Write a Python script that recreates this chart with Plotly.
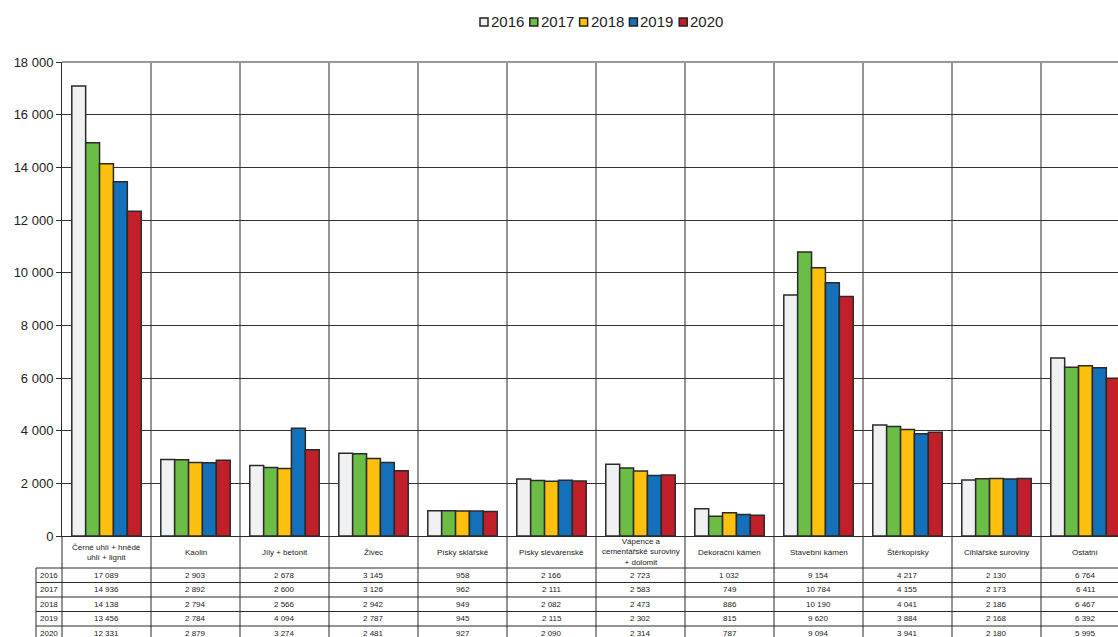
import plotly.graph_objects as go

categories = [
    "Černé uhlí + hnědé<br>uhlí + lignit",
    "Kaolin",
    "Jíly + betonit",
    "Živec",
    "Písky sklářské",
    "Písky slévárenské",
    "Vápence a<br>cementářské suroviny<br>+ dolomit",
    "Dekorační kámen",
    "Stavební kámen",
    "Štěrkopísky",
    "Cihlářské suroviny",
    "Ostatní",
]
years = ["2016", "2017", "2018", "2019", "2020"]
v2016 = [17089, 2903, 2678, 3145, 958, 2166, 2723, 1032, 9154, 4217, 2130, 6764]
v2017 = [14936, 2892, 2600, 3126, 962, 2111, 2583, 749, 10784, 4155, 2173, 6411]
v2018 = [14138, 2794, 2566, 2942, 949, 2082, 2473, 886, 10190, 4041, 2186, 6467]
v2019 = [13456, 2784, 4094, 2787, 945, 2115, 2302, 815, 9620, 3884, 2168, 6392]
v2020 = [12331, 2879, 3274, 2481, 927, 2090, 2314, 787, 9094, 3941, 2180, 5995]
series = [v2016, v2017, v2018, v2019, v2020]
colors = ["#F0F1F3", "#6CBD45", "#FDC00F", "#1470B8", "#C1202A"]
ytick_vals = list(range(0, 18001, 2000))

W, H = 1118, 637
L, T, B = 62, 62, 101
PW = W - L
PH = H - T - B
Y0 = H - B  # pixel of zero line
CAT_W = 89.0
x_hi = PW / CAT_W - 0.5

def fx(p):
    return (p - L) / PW

def fy(p):
    return (Y0 - p) / PH

def fmt(v):
    return f"{v:,}".replace(",", " ")

FONT = "Liberation Sans, Arial, sans-serif"
TXT = "#222222"
LINE = "#2b2b2b"

fig = go.Figure()
xs = list(range(len(categories)))
for yr, vals, col in zip(years, series, colors):
    fig.add_trace(go.Bar(
        x=xs, y=vals, name=yr, marker_color=col,
        marker_line_color="#2a2a2a", marker_line_width=1.5,
        showlegend=False,
    ))

shapes = []
annotations = []

# vertical category boundaries through plot, label row and table
for i in range(1, 13):
    shapes.append(dict(type="line", xref="x", yref="paper",
                       x0=i - 0.5, x1=i - 0.5, y0=1, y1=fy(645),
                       line=dict(color=LINE, width=1), layer="below"))
# left edge line below the plot
shapes.append(dict(type="line", xref="paper", yref="paper",
                   x0=0, x1=0, y0=0, y1=fy(645),
                   line=dict(color=LINE, width=1)))
# table left column edge
shapes.append(dict(type="line", xref="paper", yref="paper",
                   x0=fx(36), x1=fx(36), y0=fy(568), y1=fy(645),
                   line=dict(color=LINE, width=1)))
# table horizontal lines
row_lines = [568, 582.5, 597, 611.5, 626, 640.5]
for p in row_lines:
    shapes.append(dict(type="line", xref="paper", yref="paper",
                       x0=fx(36), x1=1, y0=fy(p), y1=fy(p),
                       line=dict(color=LINE, width=1)))
# top border (gray)
shapes.append(dict(type="line", xref="paper", yref="paper",
                   x0=0, x1=1, y0=1, y1=1,
                   line=dict(color="#999999", width=2)))

# category labels
for i, c in enumerate(categories):
    annotations.append(dict(x=i, y=fy(552), xref="x", yref="paper",
                            text=c, showarrow=False,
                            font=dict(family=FONT, size=8, color=TXT),
                            xanchor="center", yanchor="middle"))

# table rows
for r, (yr, vals) in enumerate(zip(years, series)):
    yc = (row_lines[r] + row_lines[r + 1]) / 2
    annotations.append(dict(x=fx(38), y=fy(yc), xref="paper", yref="paper",
                            text=yr, showarrow=False, xanchor="left",
                            yanchor="middle",
                            font=dict(family=FONT, size=8, color=TXT)))
    for i, v in enumerate(vals):
        annotations.append(dict(x=i, y=fy(yc), xref="x", yref="paper",
                                text=fmt(v), showarrow=False,
                                xanchor="center", yanchor="middle",
                                font=dict(family=FONT, size=8, color=TXT)))

# custom legend
leg_x0 = 480
leg_pitch = 49.8
for k, (yr, col) in enumerate(zip(years, colors)):
    sx = leg_x0 + k * leg_pitch
    shapes.append(dict(type="rect", xref="paper", yref="paper",
                       x0=fx(sx), x1=fx(sx + 8), y0=fy(26), y1=fy(18),
                       fillcolor=col, line=dict(color="#222222", width=1.5)))
    annotations.append(dict(x=fx(sx + 9), y=fy(22), xref="paper", yref="paper",
                            text=yr, showarrow=False, xanchor="left",
                            yanchor="middle",
                            font=dict(family=FONT, size=15, color=TXT)))

fig.update_layout(
    width=W, height=H,
    margin=dict(l=L, r=0, t=T, b=B, pad=0),
    paper_bgcolor="white", plot_bgcolor="white",
    barmode="group", bargap=0.22, bargroupgap=0,
    showlegend=False,
    shapes=shapes, annotations=annotations,
    font=dict(family=FONT, color=TXT),
    xaxis=dict(range=[-0.5, x_hi], showticklabels=False, showgrid=False,
               zeroline=False, showline=True, linecolor=LINE, linewidth=1,
               ticks=""),
    yaxis=dict(range=[0, 18000], tickvals=ytick_vals,
               ticktext=[fmt(v) for v in ytick_vals],
               showgrid=True, gridcolor="#333333", gridwidth=1,
               zeroline=False, showline=True, linecolor=LINE, linewidth=1,
               ticks="outside", ticklen=5, tickcolor=LINE,
               tickfont=dict(family=FONT, size=13, color=TXT)),
)

fig.write_html("out.html")
